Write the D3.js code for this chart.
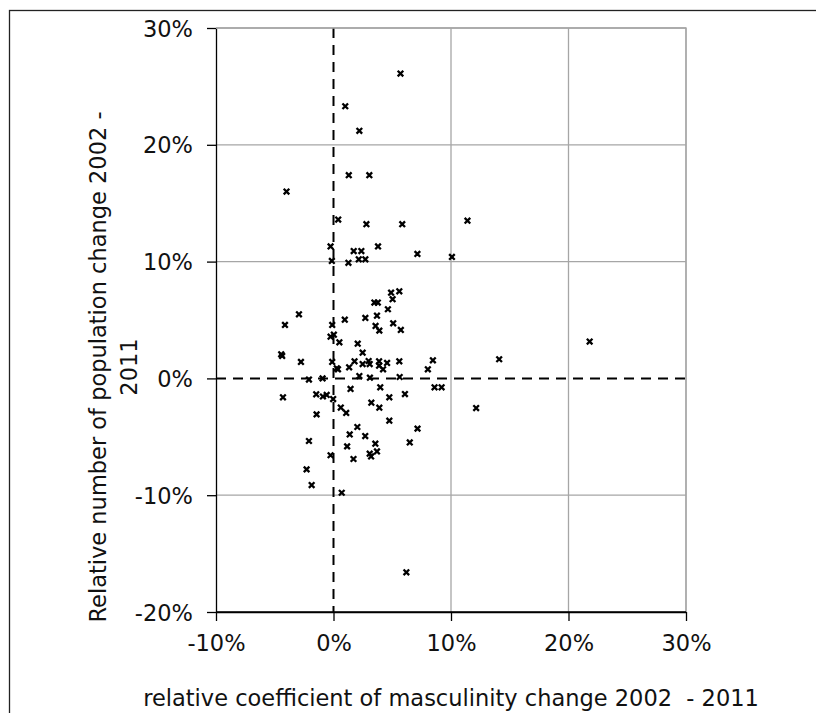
<!DOCTYPE html>
<html>
<head>
<meta charset="utf-8">
<script src="https://cdn.jsdelivr.net/npm/d3@7"></script>
<style>
  html, body { margin: 0; padding: 0; background: #fff; }
  svg { display: block; font-family: "DejaVu Sans", Verdana, sans-serif; }
</style>
</head>
<body>
<div id="chart"></div>
<script>
// relative coefficient of masculinity change 2002 - 2011 (%)
const masculinityChange = [
  5.7, 1.0, 2.2, 1.3, 3.05, -4.0, 0.4, 2.8, 5.85, 11.4,
  -0.25, 1.72, 2.37, 3.79, 7.14, 10.08, -0.14, 1.27, 2.15, 2.71,
  4.9, 5.6, 5.03, 3.48, 3.77, 4.63, 3.7, -2.94, -4.13, 0.96,
  2.71, -0.11, 3.58, 5.08, 3.9, 5.73, -0.25, 0.03, 0.5, 2.06,
  2.48, -4.45, -4.37, -2.77, -0.11, 0.28, 0.38, 1.33, 1.79, 2.48,
  2.99, 3.08, 3.88, 3.88, 4.22, 4.56, 5.6, 8.46, 8.03, 14.1,
  21.8, 2.2, 3.1, 5.63, -2.09, -0.93, 1.45, 3.98, 8.6, 9.2,
  -4.3, -1.47, -0.9, -0.58, -0.03, 4.75, 6.08, 3.22, 3.9, 0.62,
  1.08, -1.44, 12.14, 4.75, 2.03, 7.15, 1.38, 2.7, -2.09, 6.49,
  3.56, 1.16, 3.08, 3.7, 3.2, -0.25, 1.7, -2.29, -1.86, 0.7,
  6.2
];

// relative number of population change 2002 - 2011 (%)
const populationChange = [
  26.1, 23.3, 21.2, 17.4, 17.4, 16.0, 13.6, 13.2, 13.2, 13.5,
  11.3, 10.9, 10.9, 11.3, 10.66, 10.4, 10.06, 9.9, 10.2, 10.2,
  7.34, 7.46, 6.78, 6.49, 6.49, 5.92, 5.37, 5.49, 4.58, 5.03,
  5.18, 4.58, 4.49, 4.72, 4.09, 4.15, 3.57, 3.74, 3.09, 2.97,
  2.2, 2.06, 1.92, 1.41, 1.41, 0.87, 0.78, 0.95, 1.46, 1.23,
  1.49, 1.23, 1.46, 1.09, 0.78, 1.32, 1.46, 1.55, 0.78, 1.64,
  3.15, 0.2, 0.06, 0.12, -0.1, 0.0, -0.9, -0.76, -0.76, -0.76,
  -1.62, -1.36, -1.55, -1.42, -1.77, -1.62, -1.34, -2.08, -2.51, -2.5,
  -2.96, -3.08, -2.54, -3.62, -4.16, -4.3, -4.8, -4.94, -5.36, -5.48,
  -5.59, -5.82, -6.45, -6.25, -6.68, -6.58, -6.9, -7.79, -9.13, -9.79,
  -16.6
];

const xTicks = [-10, 0, 10, 20, 30];
const yTicks = [-20, -10, 0, 10, 20, 30];

const xTitle = "relative coefficient of masculinity change 2002  - 2011";
const yTitleLines = ["Relative number of population change 2002 -", "2011"];

const width = 816;
const height = 713;
const margin = { left: 216, right: 130, top: 28, bottom: 101 };

const fmt = (d) => `${d}%`;

const svg = d3.select("#chart")
  .append("svg")
  .attr("width", width)
  .attr("height", height);

// outer chart frame (runs off the right/bottom of the picture)
svg.append("rect")
  .attr("x", 9.5)
  .attr("y", 10.5)
  .attr("width", 820)
  .attr("height", 720)
  .attr("fill", "none")
  .attr("stroke", "#222")
  .attr("stroke-width", 1.3);

const x = d3.scaleLinear()
  .domain([-10, 30])
  .range([margin.left, width - margin.right]);

const y = d3.scaleLinear()
  .domain([-20, 30])
  .range([height - margin.bottom, margin.top]);

const grid = svg.append("g")
  .attr("stroke", "#a6a6a6")
  .attr("stroke-width", 1.3);

// vertical gridlines
grid.selectAll(".vx")
  .data(xTicks.filter((d) => d !== -10 && d !== 0))
  .join("line")
  .attr("x1", (d) => x(d))
  .attr("x2", (d) => x(d))
  .attr("y1", y(30))
  .attr("y2", y(-20));

// horizontal gridlines
grid.selectAll(".hy")
  .data(yTicks.filter((d) => d !== -20 && d !== 0))
  .join("line")
  .attr("x1", x(-10))
  .attr("x2", x(30))
  .attr("y1", (d) => y(d))
  .attr("y2", (d) => y(d));

// reference lines at 0
svg.append("line")
  .attr("x1", x(0)).attr("x2", x(0))
  .attr("y1", y(30)).attr("y2", y(-20))
  .attr("stroke", "#000")
  .attr("stroke-width", 2)
  .attr("stroke-dasharray", "10,7");

svg.append("line")
  .attr("x1", x(-10)).attr("x2", x(30))
  .attr("y1", y(0)).attr("y2", y(0))
  .attr("stroke", "#000")
  .attr("stroke-width", 2)
  .attr("stroke-dasharray", "10,7");

// axes
const xAxis = svg.append("g")
  .attr("transform", `translate(0,${y(-20)})`)
  .call(d3.axisBottom(x).tickValues(xTicks).tickFormat(fmt).tickSize(9).tickSizeOuter(0).tickPadding(14));

const yAxis = svg.append("g")
  .attr("transform", `translate(${x(-10)},0)`)
  .call(d3.axisLeft(y).tickValues(yTicks).tickFormat(fmt).tickSize(9).tickSizeOuter(0).tickPadding(14));

[xAxis, yAxis].forEach((g) => {
  g.select(".domain").attr("stroke", "#000").attr("stroke-width", 1.3);
  g.selectAll(".tick line").attr("stroke", "#000").attr("stroke-width", 1.3);
  g.selectAll(".tick text")
    .attr("fill", "#111")
    .style("font-size", "22.5px")
    .style("font-family", "'DejaVu Sans', Verdana, sans-serif");
});

xAxis.selectAll(".tick text").attr("dy", "0.72em");
yAxis.selectAll(".tick text").attr("dy", "0.36em");

// right / top plot border in grid colour
svg.append("path")
  .attr("d", `M${x(-10)},${y(30)}H${x(30)}V${y(-20)}`)
  .attr("fill", "none")
  .attr("stroke", "#a6a6a6")
  .attr("stroke-width", 1.3);

// bottom axis drawn again so it stays on top of the border
svg.append("line")
  .attr("x1", x(-10)).attr("x2", x(30))
  .attr("y1", y(-20)).attr("y2", y(-20))
  .attr("stroke", "#000")
  .attr("stroke-width", 1.3);

// markers
const points = masculinityChange.map((d, i) => ({ mx: d, py: populationChange[i] }));

svg.append("g")
  .selectAll("path")
  .data(points)
  .join("path")
  .attr("transform", (d) => `translate(${x(d.mx)},${y(d.py)})`)
  .attr("d", "M-2.8,-2.8L2.8,2.8M-2.8,2.8L2.8,-2.8")
  .attr("stroke", "#000")
  .attr("stroke-width", 2.3)
  .attr("fill", "none");

// axis titles
svg.append("text")
  .attr("x", (x(-10) + x(30)) / 2)
  .attr("y", 706)
  .attr("text-anchor", "middle")
  .attr("fill", "#111")
  .style("font-size", "22.5px")
  .style("white-space", "pre")
  .text(xTitle);

const yTitle = svg.append("text")
  .attr("transform", "translate(0,367) rotate(-90)")
  .attr("text-anchor", "middle")
  .attr("fill", "#111")
  .style("font-size", "22.5px");

yTitle.selectAll("tspan")
  .data(yTitleLines)
  .join("tspan")
  .attr("x", 0)
  .attr("y", (d, i) => (i === 0 ? 106 : 137))
  .text((d) => d);
</script>
</body>
</html>
